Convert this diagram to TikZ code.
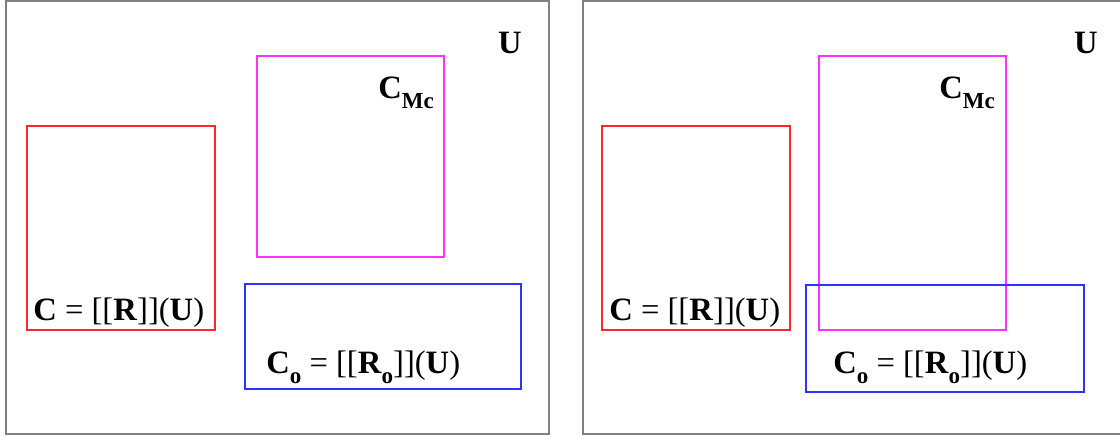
\documentclass[tikz,border=0pt]{standalone}
\usepackage{fontspec}
\setmainfont{Liberation Serif}
\usepackage{tikz}
\definecolor{framegray}{RGB}{128,128,128}
\definecolor{setred}{RGB}{255,40,40}
\definecolor{setmag}{RGB}{255,50,255}
\definecolor{setblue}{RGB}{50,50,255}
\newcommand{\lowsub}[1]{\raisebox{-0.7ex}{\fontsize{11.5}{12}\selectfont\bfseries #1}}

\begin{document}
\begin{tikzpicture}[
    x=0.5pt, y=-0.5pt,
    universe/.style={draw=framegray, line width=0.75pt},
    setbox/.style={line width=0.65pt},
    setlabel/.style={inner sep=0pt, font=\fontsize{16.3}{19}\selectfont}
]
\useasboundingbox (0,0) rectangle (1120,436);

% left panel: disjoint sets
\draw[universe] (6,1) rectangle (549,434);
\draw[setbox, draw=setred] (27,126) rectangle (215,330);
\draw[setbox, draw=setmag] (257,56) rectangle (444,257);
\draw[setbox, draw=setblue] (245,284) rectangle (521,389);
\node[setlabel, anchor=base east] (uL) at (522,53) {\textbf{U}};
\node[setlabel, anchor=base west] (cmcL) at (378,98) {\textbf{C}\lowsub{Mc}};
\node[setlabel, anchor=base west] (cL) at (33,320) {\textbf{C} = [[\textbf{R}]](\textbf{U})};
\node[setlabel, anchor=base west] (coL) at (266,373) {\textbf{C}\lowsub{o} = [[\textbf{R}\lowsub{o}]](\textbf{U})};

% right panel: overlapping sets
\draw[universe] (583,1) rectangle (1124,434);
\draw[setbox, draw=setred] (602,126) rectangle (790,330);
\draw[setbox, draw=setmag] (819,56) rectangle (1006,330);
\draw[setbox, draw=setblue] (806,285) rectangle (1084,392);
\node[setlabel, anchor=base east] (uR) at (1098,53) {\textbf{U}};
\node[setlabel, anchor=base west] (cmcR) at (939,98) {\textbf{C}\lowsub{Mc}};
\node[setlabel, anchor=base west] (cR) at (609,320) {\textbf{C} = [[\textbf{R}]](\textbf{U})};
\node[setlabel, anchor=base west] (coR) at (833,373) {\textbf{C}\lowsub{o} = [[\textbf{R}\lowsub{o}]](\textbf{U})};
\end{tikzpicture}
\end{document}
